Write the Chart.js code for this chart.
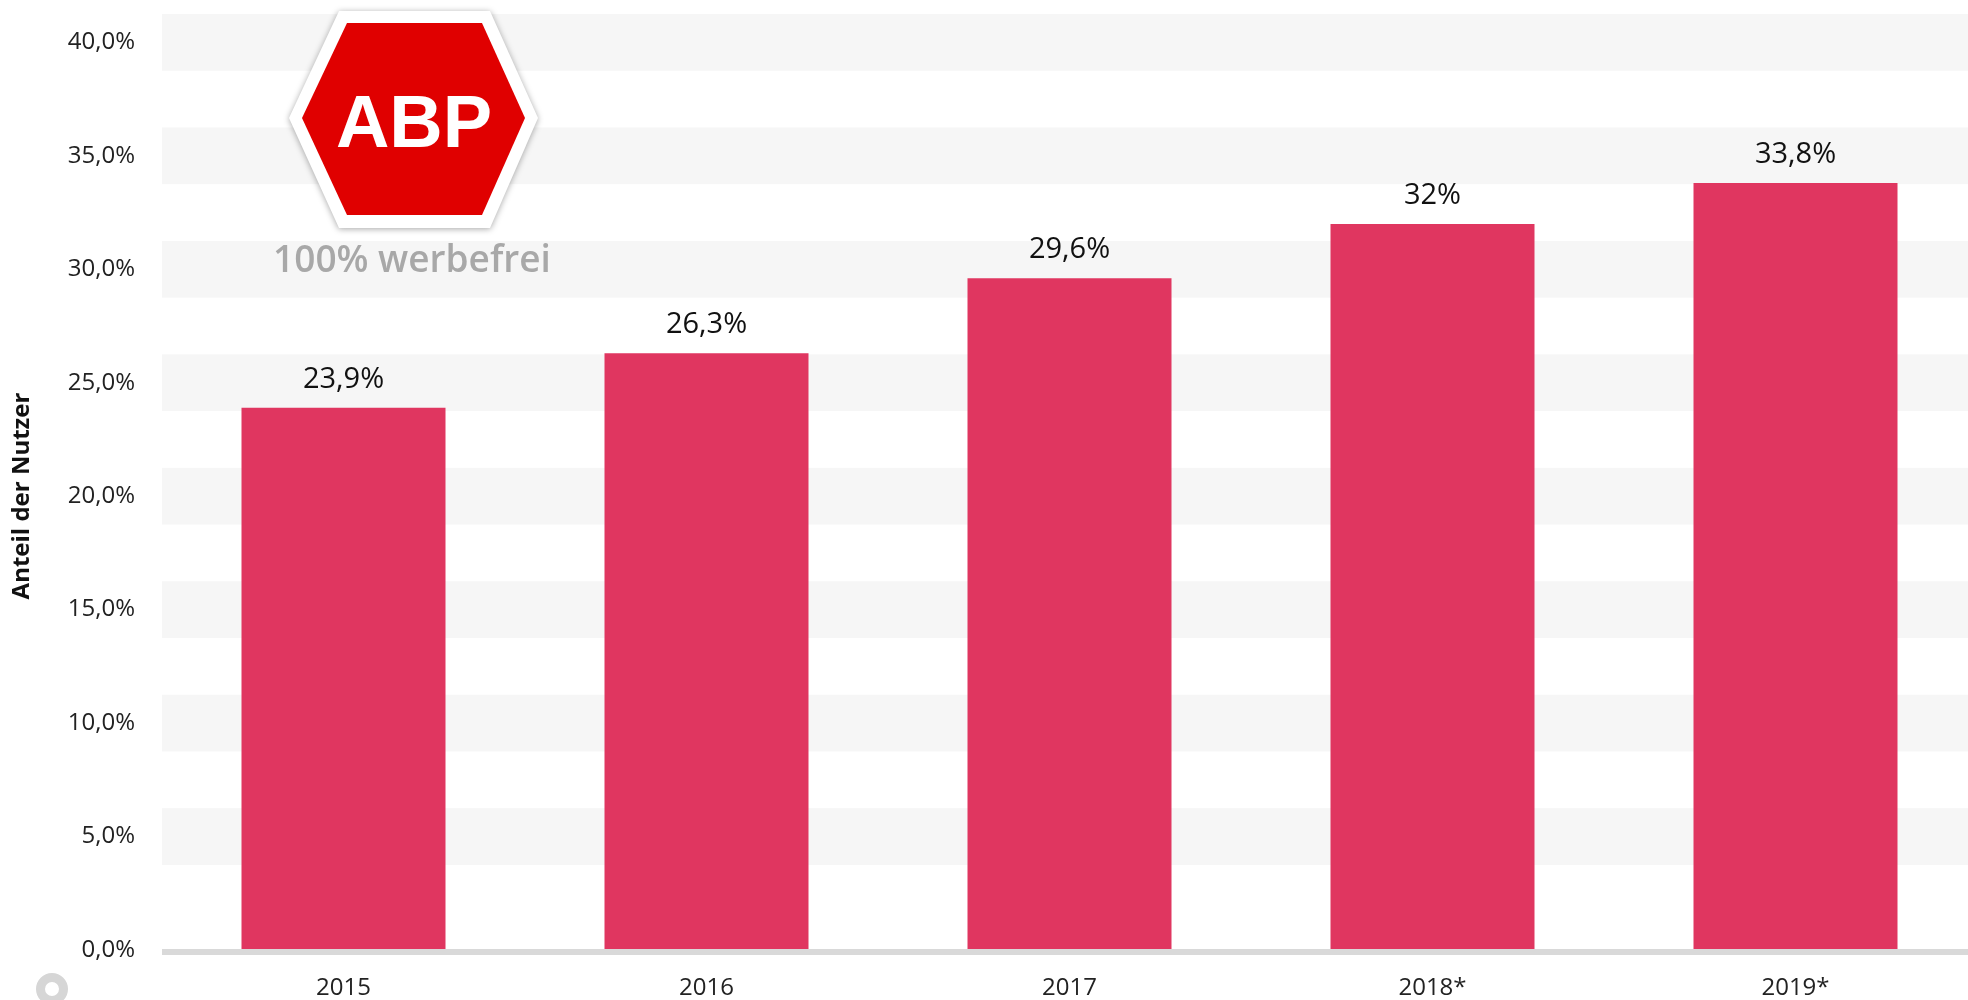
<!DOCTYPE html>
<html>
<head>
<meta charset="utf-8">
<script src="https://cdn.jsdelivr.net/npm/chart.js@4.4.1/dist/chart.umd.min.js"></script>
<style>
  html, body { margin: 0; padding: 0; background: #fff; overflow: hidden; }
  #wrap { position: absolute; left: 0; top: 0; }
</style>
</head>
<body>
<div id="wrap"><canvas id="chart" width="1977" height="1000"></canvas></div>
<script>
// Anteil der Nutzer mit Adblocker
const years = ['2015', '2016', '2017', '2018*', '2019*'];
const shares = [23.9, 26.3, 29.6, 32, 33.8];
const yTicks = [0, 5, 10, 15, 20, 25, 30, 35, 40];
const yTitle = 'Anteil der Nutzer';

const barColor = '#e03660';

function fmtLabel(v) {
  return String(v).replace('.', ',') + '%';
}

// alternierende graue Streifen um jeden Tick (ausser 0)
const bandsPlugin = {
  id: 'bands',
  beforeDatasetsDraw(chart) {
    const { ctx, chartArea } = chart;
    const y = chart.scales.y;
    ctx.save();
    ctx.fillStyle = '#f6f6f6';
    for (const t of yTicks) {
      if (t === 0) continue;
      const top = y.getPixelForValue(t + 1.25);
      const bot = y.getPixelForValue(t - 1.25);
      ctx.fillRect(chartArea.left, top, chartArea.right - chartArea.left, bot - top);
    }
    ctx.restore();
  }
};

const labelsPlugin = {
  id: 'barLabels',
  afterDatasetsDraw(chart) {
    const { ctx, chartArea } = chart;
    const y = chart.scales.y;
    // Grundlinie
    const base = y.getPixelForValue(0);
    ctx.save();
    ctx.fillStyle = '#d9d9d9';
    ctx.fillRect(chartArea.left, base - 1, chartArea.right - chartArea.left, 6);

    ctx.fillStyle = '#111';
    ctx.font = '29px "Open Sans"';
    ctx.textAlign = 'center';
    ctx.textBaseline = 'alphabetic';
    const meta = chart.getDatasetMeta(0);
    meta.data.forEach((bar, i) => {
      ctx.fillText(fmtLabel(shares[i]), bar.x, bar.y - 20);
    });

    // Achsentitel, etwas unter der Mitte wie im Original
    ctx.translate(22, 496);
    ctx.rotate(-Math.PI / 2);
    ctx.font = 'bold 24px "Open Sans"';
    ctx.textBaseline = 'middle';
    ctx.fillText(yTitle, 0, 0);
    ctx.restore();
  }
};

const logoPlugin = {
  id: 'logo',
  afterDraw(chart) {
    const ctx = chart.ctx;
    ctx.save();
    const outer = [[339, 11], [490, 11], [538, 118], [490, 228], [339, 228], [289, 118]];
    const inner = [[347, 23], [482, 23], [525, 118], [482, 215], [347, 215], [302, 118]];
    const poly = pts => {
      ctx.beginPath();
      pts.forEach((p, i) => i ? ctx.lineTo(p[0], p[1]) : ctx.moveTo(p[0], p[1]));
      ctx.closePath();
    };
    ctx.shadowColor = 'rgba(0,0,0,0.35)';
    ctx.shadowBlur = 6;
    ctx.shadowOffsetY = 1;
    ctx.fillStyle = '#fff';
    poly(outer);
    ctx.fill();
    ctx.shadowColor = 'transparent';
    ctx.fillStyle = '#e00000';
    poly(inner);
    ctx.fill();

    ctx.fillStyle = '#fff';
    ctx.font = 'bold 74px "Liberation Sans"';
    ctx.textAlign = 'center';
    ctx.textBaseline = 'alphabetic';
    ctx.fillText('ABP', 414, 147);

    ctx.fillStyle = '#a8a8a8';
    ctx.font = '600 37px "Open Sans"';
    ctx.fillText('100% werbefrei', 412, 272);

    // angeschnittenes Logo unten links
    ctx.strokeStyle = '#d6d6d6';
    ctx.lineWidth = 9;
    ctx.beginPath();
    ctx.arc(52, 989, 11.5, 0, Math.PI * 2);
    ctx.stroke();
    ctx.restore();
  }
};

new Chart(document.getElementById('chart'), {
  type: 'bar',
  data: {
    labels: years,
    datasets: [{
      data: shares,
      backgroundColor: barColor,
      borderWidth: 0,
      categoryPercentage: 1,
      barPercentage: 0.562
    }]
  },
  options: {
    responsive: false,
    animation: false,
    devicePixelRatio: 1,
    layout: { padding: { top: 14, right: 0, left: 0, bottom: 0 } },
    plugins: {
      legend: { display: false },
      tooltip: { enabled: false }
    },
    scales: {
      x: {
        grid: { display: false, drawTicks: false },
        border: { display: false },
        ticks: {
          color: '#222',
          font: { family: 'Open Sans', size: 24 },
          padding: 24
        },
        afterFit(scale) {
          scale.height = 50;
          scale.paddingLeft = 0;
          scale.paddingRight = 0;
        }
      },
      y: {
        min: 0,
        max: 41.25,
        grid: { display: false, drawTicks: false },
        border: { display: false },
        afterBuildTicks(scale) {
          scale.ticks = yTicks.map(v => ({ value: v }));
        },
        ticks: {
          color: '#222',
          font: { family: 'Open Sans', size: 24 },
          padding: 27,
          callback: v => v.toFixed(1).replace('.', ',') + '%'
        },
        afterFit(scale) {
          scale.width = 162;
          scale.paddingTop = 0;
          scale.paddingBottom = 0;
        }
      }
    }
  },
  plugins: [bandsPlugin, labelsPlugin, logoPlugin]
});
</script>
</body>
</html>
